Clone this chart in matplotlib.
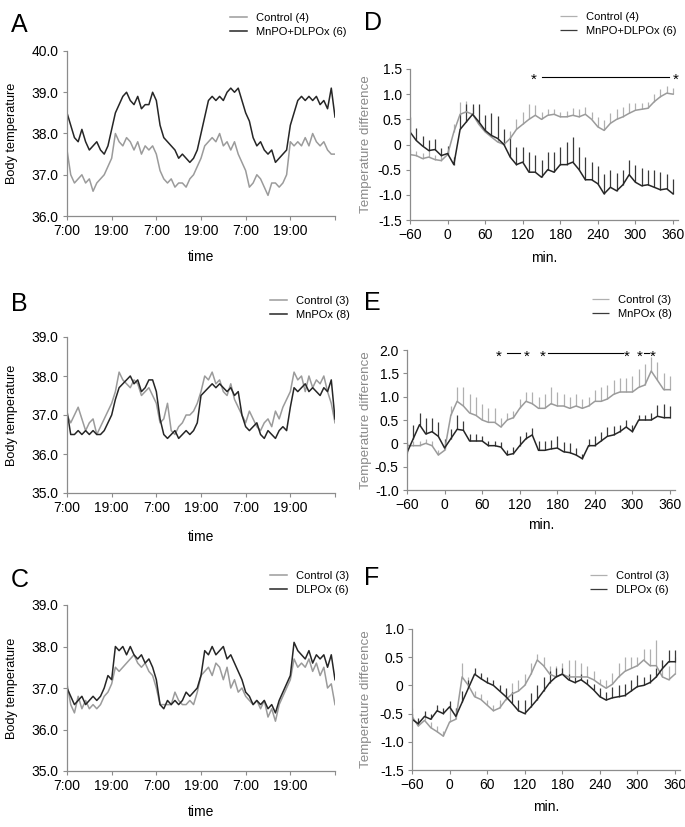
import numpy as np
import matplotlib
matplotlib.use('Agg')
import matplotlib.pyplot as plt

plt.rcParams['font.family'] = ['Liberation Sans', 'DejaVu Sans']

# time axis for the 3-day recordings (hours after 7:00 of day 1)
hours = np.arange(0, 73)
time_ticks = np.arange(0, 73, 12)
time_labels = ['7:00', '19:00', '7:00', '19:00', '7:00', '19:00', '']

# A: control vs MnPO+DLPOx
a_control = [37.6, 37.0, 36.8, 36.9, 37.0, 36.8, 36.9, 36.6, 36.8, 36.9,
             37.0, 37.2, 37.4, 38.0, 37.8, 37.7, 37.9, 37.8, 37.6, 37.8,
             37.5, 37.7, 37.6, 37.7, 37.5, 37.1, 36.9, 36.8, 36.9, 36.7,
             36.8, 36.8, 36.7, 36.9, 37.0, 37.2, 37.4, 37.7, 37.8, 37.9,
             37.8, 38.0, 37.7, 37.8, 37.6, 37.8, 37.5, 37.3, 37.1, 36.7,
             36.8, 37.0, 36.9, 36.7, 36.5, 36.8, 36.8, 36.7, 36.8, 37.0,
             37.8, 37.7, 37.8, 37.7, 37.9, 37.7, 38.0, 37.8, 37.7, 37.8,
             37.6, 37.5, 37.5]
a_lesion = [38.5, 38.2, 37.9, 37.8, 38.1, 37.8, 37.6, 37.7, 37.8, 37.6,
            37.5, 37.7, 38.1, 38.5, 38.7, 38.9, 39.0, 38.8, 38.7, 38.9,
            38.6, 38.7, 38.7, 39.0, 38.8, 38.2, 37.9, 37.8, 37.7, 37.6,
            37.4, 37.5, 37.4, 37.3, 37.4, 37.6, 38.0, 38.4, 38.8, 38.9,
            38.8, 38.9, 38.8, 39.0, 39.1, 39.0, 39.1, 38.8, 38.5, 38.3,
            37.9, 37.7, 37.8, 37.6, 37.5, 37.6, 37.3, 37.4, 37.5, 37.6,
            38.2, 38.5, 38.8, 38.9, 38.8, 38.9, 38.8, 38.9, 38.7, 38.8,
            38.6, 39.1, 38.4]

# B: control vs MnPOx
b_control = [37.0, 36.8, 37.0, 37.2, 36.9, 36.6, 36.8, 36.9, 36.5, 36.7,
             36.9, 37.1, 37.3, 37.6, 38.1, 37.9, 37.8, 37.7, 37.9, 37.8,
             37.5, 37.6, 37.7, 37.5, 37.3, 36.8, 36.9, 37.3, 36.6, 36.5,
             36.7, 36.8, 37.0, 37.0, 37.1, 37.3, 37.6, 38.0, 37.9, 38.1,
             37.8, 37.9, 37.6, 37.5, 37.8, 37.4, 37.2, 37.0, 36.8, 37.1,
             36.9, 36.7, 36.6, 36.8, 36.9, 36.7, 37.1, 36.9, 37.2, 37.4,
             37.6, 38.1, 37.9, 38.0, 37.6, 38.0, 37.7, 37.9, 37.8, 38.0,
             37.6, 37.3, 36.8]
b_lesion = [37.1, 36.5, 36.5, 36.6, 36.5, 36.6, 36.5, 36.6, 36.5, 36.5,
            36.6, 36.8, 37.0, 37.4, 37.7, 37.8, 37.9, 38.0, 37.8, 37.9,
            37.6, 37.7, 37.9, 37.9, 37.6, 36.9, 36.5, 36.4, 36.5, 36.6,
            36.4, 36.5, 36.6, 36.5, 36.6, 36.8, 37.5, 37.6, 37.7, 37.8,
            37.7, 37.8, 37.7, 37.6, 37.7, 37.5, 37.6, 37.0, 36.7, 36.6,
            36.7, 36.8, 36.5, 36.4, 36.6, 36.5, 36.4, 36.6, 36.7, 36.6,
            37.2, 37.7, 37.6, 37.7, 37.8, 37.6, 37.7, 37.6, 37.5, 37.7,
            37.6, 37.9, 36.9]

# C: control vs DLPOx
c_control = [37.1, 36.6, 36.4, 36.8, 36.5, 36.7, 36.5, 36.6, 36.5, 36.6,
             36.8, 36.9, 37.1, 37.5, 37.4, 37.5, 37.6, 37.7, 37.8, 37.6,
             37.5, 37.6, 37.4, 37.3, 37.0, 36.6, 36.6, 36.6, 36.6, 36.9,
             36.7, 36.6, 36.6, 36.7, 36.6, 36.9, 37.3, 37.4, 37.5, 37.3,
             37.6, 37.5, 37.2, 37.5, 37.0, 37.2, 36.9, 37.0, 36.8, 36.7,
             36.6, 36.7, 36.5, 36.7, 36.3, 36.5, 36.2, 36.6, 36.8, 37.0,
             37.2, 37.7, 37.5, 37.6, 37.5, 37.7, 37.4, 37.6, 37.3, 37.5,
             37.0, 37.1, 36.6]
c_lesion = [37.0, 36.8, 36.6, 36.7, 36.8, 36.6, 36.7, 36.8, 36.7, 36.8,
            37.0, 37.3, 37.2, 38.0, 37.9, 38.0, 37.8, 38.0, 37.8, 37.7,
            37.8, 37.6, 37.7, 37.5, 37.2, 36.6, 36.5, 36.7, 36.6, 36.7,
            36.6, 36.7, 36.9, 36.8, 36.9, 37.0, 37.3, 37.9, 37.8, 38.0,
            37.8, 37.9, 38.0, 37.7, 37.8, 37.6, 37.4, 37.2, 36.9, 36.8,
            36.6, 36.7, 36.6, 36.7, 36.5, 36.6, 36.4, 36.7, 36.9, 37.1,
            37.3, 38.1, 37.9, 37.8, 37.7, 37.9, 37.6, 37.8, 37.7, 37.8,
            37.5, 37.8, 37.2]

# temperature difference, minutes relative to stimulus
minutes = np.arange(-60, 361, 10)

d_control = [-0.2, -0.22, -0.28, -0.25, -0.3, -0.32, -0.2, 0.25, 0.6, 0.65,
             0.6, 0.4, 0.25, 0.15, 0.05, 0.0, 0.12, 0.3, 0.4, 0.5,
             0.58, 0.5, 0.58, 0.6, 0.55, 0.55, 0.58, 0.55, 0.6, 0.5,
             0.35, 0.28, 0.42, 0.5, 0.55, 0.62, 0.68, 0.7, 0.72, 0.85,
             0.95, 1.02, 1.0]
d_control_err = [0.12, 0.1, 0.12, 0.12, 0.1, 0.1, 0.1, 0.15, 0.25, 0.22,
                 0.15, 0.1, 0.1, 0.08, 0.08, 0.1, 0.15, 0.2, 0.25, 0.3,
                 0.2, 0.15, 0.12, 0.1, 0.1, 0.12, 0.15, 0.15, 0.15, 0.15,
                 0.2, 0.2, 0.2, 0.2, 0.2, 0.2, 0.15, 0.12, 0.12, 0.15,
                 0.15, 0.15, 0.12]
d_lesion = [0.25, 0.08, -0.03, -0.12, -0.1, -0.22, -0.18, -0.4, 0.3, 0.45,
            0.6, 0.45, 0.28, 0.18, 0.12, 0.0, -0.25, -0.4, -0.35, -0.55,
            -0.55, -0.65, -0.5, -0.55, -0.4, -0.4, -0.35, -0.5, -0.7, -0.7,
            -0.78, -0.98, -0.85, -0.92, -0.8, -0.6, -0.75, -0.82, -0.8, -0.85,
            -0.9, -0.88, -0.98]
d_lesion_err = [0.3, 0.25, 0.2, 0.2, 0.2, 0.15, 0.15, 0.15, 0.3, 0.35,
                0.2, 0.35, 0.3, 0.45, 0.45, 0.3, 0.4, 0.35, 0.3, 0.4,
                0.35, 0.35, 0.35, 0.4, 0.35, 0.45, 0.5, 0.45, 0.45, 0.35,
                0.35, 0.4, 0.35, 0.35, 0.3, 0.3, 0.35, 0.35, 0.3, 0.35,
                0.35, 0.3, 0.3]

e_control = [-0.05, -0.05, -0.05, 0.0, -0.05, -0.25, -0.15, 0.6, 0.9, 0.8,
             0.65, 0.6, 0.5, 0.45, 0.45, 0.35, 0.5, 0.55, 0.75, 0.9,
             0.85, 0.75, 0.75, 0.85, 0.8, 0.8, 0.75, 0.8, 0.75, 0.8,
             0.9, 0.9, 0.95, 1.05, 1.1, 1.1, 1.1, 1.2, 1.25, 1.55,
             1.35, 1.15, 1.15]
e_control_err = [0.1, 0.1, 0.1, 0.1, 0.1, 0.1, 0.1, 0.2, 0.3, 0.4,
                 0.4, 0.4, 0.35, 0.3, 0.3, 0.2, 0.15, 0.15, 0.2, 0.2,
                 0.25, 0.25, 0.3, 0.35, 0.3, 0.25, 0.25, 0.25, 0.2, 0.2,
                 0.25, 0.3, 0.3, 0.3, 0.3, 0.3, 0.35, 0.4, 0.45, 0.3,
                 0.4, 0.35, 0.3]
e_lesion = [-0.2, 0.1, 0.4, 0.2, 0.25, 0.15, -0.1, 0.1, 0.3, 0.28,
            0.05, 0.05, 0.05, -0.05, -0.05, -0.08, -0.25, -0.22, -0.05, 0.1,
            0.18, -0.15, -0.15, -0.12, -0.1, -0.18, -0.2, -0.25, -0.33, -0.05,
            -0.05, 0.05, 0.15, 0.18, 0.25, 0.35, 0.25, 0.5, 0.5, 0.5,
            0.58, 0.55, 0.55]
e_lesion_err = [0.2, 0.3, 0.25, 0.35, 0.3, 0.3, 0.2, 0.2, 0.3, 0.2,
                0.15, 0.15, 0.1, 0.1, 0.1, 0.1, 0.1, 0.15, 0.2, 0.15,
                0.15, 0.2, 0.2, 0.2, 0.25, 0.2, 0.2, 0.15, 0.1, 0.15,
                0.2, 0.2, 0.2, 0.2, 0.15, 0.15, 0.15, 0.1, 0.1, 0.15,
                0.25, 0.3, 0.25]

f_control = [-0.55, -0.72, -0.62, -0.75, -0.82, -0.9, -0.65, -0.6, 0.15, 0.0,
             -0.2, -0.25, -0.35, -0.45, -0.4, -0.25, -0.15, -0.1, 0.0, 0.2,
             0.45, 0.35, 0.2, 0.15, 0.2, 0.15, 0.15, 0.15, 0.15, 0.1,
             0.02, -0.05, 0.02, 0.15, 0.25, 0.3, 0.35, 0.45, 0.35, 0.35,
             0.15, 0.1, 0.2]
f_control_err = [0.15, 0.1, 0.1, 0.1, 0.1, 0.1, 0.3, 0.2, 0.25, 0.15,
                 0.1, 0.1, 0.1, 0.1, 0.15, 0.15, 0.2, 0.2, 0.2, 0.2,
                 0.1, 0.15, 0.15, 0.2, 0.2, 0.3, 0.3, 0.25, 0.2, 0.15,
                 0.1, 0.15, 0.2, 0.25, 0.25, 0.2, 0.15, 0.2, 0.3, 0.45,
                 0.3, 0.25, 0.3]
f_lesion = [-0.6, -0.68, -0.55, -0.6, -0.45, -0.5, -0.38, -0.55, -0.3, -0.05,
            0.2, 0.12, 0.05, 0.0, -0.1, -0.2, -0.32, -0.45, -0.5, -0.38,
            -0.25, -0.1, 0.05, 0.15, 0.2, 0.1, 0.05, 0.1, 0.02, -0.08,
            -0.2, -0.26, -0.22, -0.2, -0.18, -0.1, -0.02, 0.0, 0.05, 0.15,
            0.3, 0.42, 0.42]
f_lesion_err = [0.1, 0.1, 0.1, 0.1, 0.1, 0.1, 0.1, 0.15, 0.2, 0.15,
                0.1, 0.1, 0.1, 0.1, 0.1, 0.15, 0.2, 0.2, 0.25, 0.25,
                0.25, 0.25, 0.2, 0.15, 0.1, 0.1, 0.1, 0.1, 0.1, 0.1,
                0.15, 0.15, 0.2, 0.2, 0.2, 0.2, 0.2, 0.15, 0.15, 0.15,
                0.15, 0.2, 0.2]

GRAY = '#9b9b9b'
DARK = '#262626'
AXIS = '#8c8c8c'
W, H = 685, 827

fig = plt.figure(figsize=(6.85, 8.27), dpi=100)


def px_axes(left, top, right, bottom):
    return fig.add_axes([left / W, 1 - bottom / H, (right - left) / W, (bottom - top) / H])


def style(ax):
    for s in ['top', 'right']:
        ax.spines[s].set_visible(False)
    for s in ['left', 'bottom']:
        ax.spines[s].set_color(AXIS)
        ax.spines[s].set_linewidth(0.9)
    ax.tick_params(direction='out', length=3, width=0.8, color=AXIS,
                   labelsize=10, pad=3)


def legend(ax, x, y, labels):
    ax.legend(labels, loc='upper left', bbox_to_anchor=(x / W, 1 - y / H),
              bbox_transform=fig.transFigure, frameon=False, fontsize=8,
              handlelength=1.5, handletextpad=0.8, labelspacing=0.35,
              borderpad=0, borderaxespad=0)


def time_panel(top, bottom, ylo, control, lesion, labels, letter, letter_y, leg_x, leg_y, xlab_y):
    ax = px_axes(67, top, 335, bottom)
    style(ax)
    ax.plot(hours, control, color=GRAY, lw=1.1)
    ax.plot(hours, lesion, color=DARK, lw=1.1)
    ax.set_xlim(0, 72)
    ax.set_ylim(ylo, ylo + 4)
    ax.set_xticks(time_ticks)
    ax.set_xticklabels(time_labels)
    ax.set_yticks(np.arange(ylo, ylo + 4.1, 1))
    ax.set_yticklabels(['%.1f' % v for v in np.arange(ylo, ylo + 4.1, 1)])
    ax.set_ylabel('Body temperature', fontsize=9.2)
    ax.yaxis.set_label_coords(18 / W, 1 - (top + bottom) / 2 / H, transform=fig.transFigure)
    fig.text(201 / W, 1 - xlab_y / H, 'time', ha='center', va='center', fontsize=10)
    fig.text(11 / W, 1 - letter_y / H, letter, ha='left', va='center', fontsize=18)
    legend(ax, leg_x, leg_y, labels)
    return ax


def diff_panel(left, top, bottom, ylo, yhi, control, control_err, lesion, lesion_err,
               labels, letter, letter_y, leg_x, leg_y, xlab_y):
    right = left + 428 * 263 / 420
    ax = px_axes(left, top, right, bottom)
    style(ax)
    ax.vlines(minutes, control, np.array(control) + np.array(control_err), color='#b0b0b0', lw=0.9)
    ax.vlines(minutes, lesion, np.array(lesion) + np.array(lesion_err), color='#3a3a3a', lw=0.9)
    ax.plot(minutes, control, color=GRAY, lw=1.1)
    ax.plot(minutes, lesion, color=DARK, lw=1.1)
    ax.set_xlim(-60, 368)
    ax.set_ylim(ylo, yhi)
    ax.set_xticks(np.arange(-60, 361, 60))
    yt = np.arange(ylo, yhi + 0.01, 0.5)
    ax.set_yticks(yt)
    ax.set_yticklabels(['0' if abs(v) < 1e-9 else '%.1f' % v for v in yt])
    ax.set_ylabel('Temperature difference', fontsize=9.6, color='#8a8a8a')
    ax.yaxis.set_label_coords(372 / W, 1 - (top + bottom) / 2 / H, transform=fig.transFigure)
    fig.text((left + right) / 2 / W, 1 - xlab_y / H, 'min.', ha='center', va='center', fontsize=10)
    fig.text(364 / W, 1 - letter_y / H, letter, ha='left', va='center', fontsize=18)
    legend(ax, leg_x, leg_y, labels)
    return ax


def star(ax, x, y):
    ax.text(x, y, '*', ha='center', va='center', fontsize=11, clip_on=False)


time_panel(51, 216, 36, a_control, a_lesion, ['Control (4)', 'MnPO+DLPOx (6)'], 'A', 25, 230, 13, 257)
time_panel(337, 493, 35, b_control, b_lesion, ['Control (3)', 'MnPOx (8)'], 'B', 304, 270, 296, 537)
time_panel(605, 771, 35, c_control, c_lesion, ['Control (3)', 'DLPOx (6)'], 'C', 580, 270, 571, 812)

ax_d = diff_panel(410, 69, 220, -1.5, 1.5, d_control, d_control_err, d_lesion, d_lesion_err,
                  ['Control (4)', 'MnPO+DLPOx (6)'], 'D', 23, 560, 12, 258)
star(ax_d, 138, 1.28)
star(ax_d, 364, 1.28)
ax_d.plot([150, 353], [1.35, 1.35], color='black', lw=0.8, clip_on=False)

ax_e = diff_panel(407, 350, 490, -1.0, 2.0, e_control, e_control_err, e_lesion, e_lesion_err,
                  ['Control (3)', 'MnPOx (8)'], 'E', 303, 592, 295, 525)
for sx in [87, 131, 157, 291, 312, 332]:
    star(ax_e, sx, 1.85)
ax_e.plot([99, 121], [1.93, 1.93], color='black', lw=0.8, clip_on=False)
ax_e.plot([165, 285], [1.93, 1.93], color='black', lw=0.8, clip_on=False)
ax_e.plot([318, 326], [1.93, 1.93], color='black', lw=0.8, clip_on=False)

diff_panel(412, 629, 770, -1.5, 1.0, f_control, f_control_err, f_lesion, f_lesion_err,
           ['Control (3)', 'DLPOx (6)'], 'F', 578, 590, 571, 807)

fig.savefig('out.png', dpi=100)
